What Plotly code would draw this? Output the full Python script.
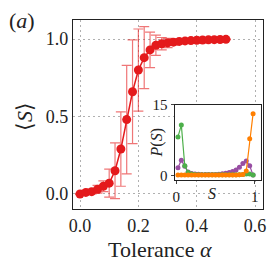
import plotly.graph_objects as go

# main curve
alpha = [0.00, 0.02, 0.04, 0.06, 0.08, 0.10, 0.12, 0.14, 0.16, 0.18, 0.20, 0.22, 0.24,
         0.26, 0.28, 0.30, 0.32, 0.34, 0.36, 0.38, 0.40, 0.42, 0.44, 0.46, 0.48, 0.50]
S_mean = [0.00, 0.01, 0.015, 0.03, 0.05, 0.07, 0.15, 0.29, 0.48, 0.66, 0.80, 0.88, 0.93,
          0.96, 0.97, 0.975, 0.98, 0.985, 0.988, 0.99, 0.992, 0.994, 0.995, 0.996, 0.997, 0.998]
S_err = [0.003, 0.01, 0.015, 0.025, 0.035, 0.09, 0.18, 0.24, 0.35, 0.335, 0.265, 0.20, 0.115,
         0.065, 0.04, 0.03, 0.02, 0.015, 0.01, 0.008, 0.006, 0.005, 0.004, 0.003, 0.002, 0.002]

# inset distributions
S_bins = [0.022, 0.065, 0.109, 0.152, 0.196, 0.239, 0.283, 0.326, 0.370, 0.413, 0.457, 0.500,
          0.543, 0.587, 0.630, 0.674, 0.717, 0.761, 0.804, 0.848, 0.891, 0.935, 0.978]
P_green = [8.2, 10.7, 2.1, 0.7, 0.4, 0.3, 0.25, 0.2, 0.2, 0.2, 0.2, 0.2,
           0.2, 0.2, 0.2, 0.2, 0.2, 0.2, 0.25, 0.3, 0.4, 0.4, 0.15]
P_purple = [1.7, 3.3, 2.0, 0.8, 0.5, 0.4, 0.35, 0.3, 0.3, 0.3, 0.3, 0.3,
            0.35, 0.45, 0.55, 0.7, 0.9, 1.2, 1.8, 2.6, 3.1, 2.1, 0.15]
P_orange = [0.15, 0.15, 0.15, 0.15, 0.15, 0.15, 0.15, 0.15, 0.15, 0.15, 0.15, 0.15,
            0.15, 0.15, 0.15, 0.15, 0.15, 0.15, 0.2, 0.3, 1.0, 7.8, 13.1]

red = "#e41a1c"
serif = "Liberation Serif"

fig = go.Figure()
fig.add_trace(go.Scatter(
    x=alpha, y=S_mean, mode="lines+markers",
    line=dict(color=red, width=1.5),
    marker=dict(color=red, size=9),
    error_y=dict(type="data", array=S_err, visible=True,
                 color="rgba(228,26,28,0.6)", thickness=1.2, width=5),
    xaxis="x", yaxis="y", showlegend=False))

for vals, col in [(P_purple, "#984ea3"), (P_green, "#4daf4a"), (P_orange, "#ff7f00")]:
    fig.add_trace(go.Scatter(
        x=S_bins, y=vals, mode="lines+markers",
        line=dict(color=col, width=1.2),
        marker=dict(color=col, size=5),
        xaxis="x2", yaxis="y2", showlegend=False))

grid = dict(showgrid=True, gridcolor="#b0b0b0", griddash="2px,3px", gridwidth=1.3)
fig.update_layout(
    width=275, height=273,
    margin=dict(l=73, r=12, t=20, b=64),
    paper_bgcolor="white", plot_bgcolor="white",
    font=dict(family=serif, color="#222"),
    xaxis=dict(domain=[0, 1], range=[-0.024, 0.627], tickvals=[0, 0.2, 0.4, 0.6],
               ticktext=["0.0", "0.2", "0.4", "0.6"], tickfont=dict(size=18, family=serif),
               showline=True, linecolor="#222", linewidth=1.2, mirror=True,
               zeroline=False, ticks="", automargin=False, **grid),
    yaxis=dict(domain=[0, 1], range=[-0.097, 1.123], tickvals=[0, 0.5, 1.0],
               ticktext=["0.0", "0.5", "1.0"], tickfont=dict(size=18, family=serif),
               showline=True, linecolor="#222", linewidth=1.2, mirror=True,
               zeroline=False, ticks="", automargin=False, **grid),
    xaxis2=dict(domain=[0.535, 0.99], anchor="y2", range=[-0.02, 1.08],
                tickvals=[0, 1], ticktext=["0", "1"], tickfont=dict(size=15, family=serif),
                showline=True, linecolor="#222", linewidth=1.2, mirror=True,
                showgrid=False, zeroline=False, ticks="outside", ticklen=3, automargin=False),
    yaxis2=dict(domain=[0.153, 0.552], anchor="x2", range=[-0.9, 15],
                tickvals=[0, 15], ticktext=["0", "15"], tickfont=dict(size=15, family=serif),
                showline=True, linecolor="#222", linewidth=1.2, mirror=True,
                showgrid=False, zeroline=False, ticks="outside", ticklen=3, automargin=False),
    shapes=[dict(type="rect", xref="x2 domain", yref="y2 domain", x0=0, x1=1, y0=0, y1=1,
                 fillcolor="white", line=dict(width=0), layer="below")],
    annotations=[
        dict(text="(<i>a</i>)", x=-0.27, y=1.0, xref="paper", yref="paper",
             showarrow=False, font=dict(size=22, family=serif), xanchor="center", yanchor="middle"),
        dict(text="Tolerance <i>α</i>", x=0.46, y=-0.215, xref="paper", yref="paper",
             showarrow=False, font=dict(size=22, family=serif), xanchor="center", yanchor="middle"),
        dict(text="⟨<i>S</i>⟩", x=-0.255, y=0.49, xref="paper", yref="paper", textangle=-90,
             showarrow=False, font=dict(size=22, family=serif), xanchor="center", yanchor="middle"),
        dict(text="<i>P</i>(<i>S</i>)", x=0.44, y=0.35, xref="paper", yref="paper", textangle=-90,
             showarrow=False, font=dict(size=16, family=serif), xanchor="center", yanchor="middle"),
        dict(text="<i>S</i>", x=0.732, y=0.08, xref="paper", yref="paper",
             showarrow=False, font=dict(size=16, family=serif), xanchor="center", yanchor="middle"),
    ],
)
fig.write_html("out.html", post_script="document.body.style.margin='0';",
               config={"displayModeBar": False})
